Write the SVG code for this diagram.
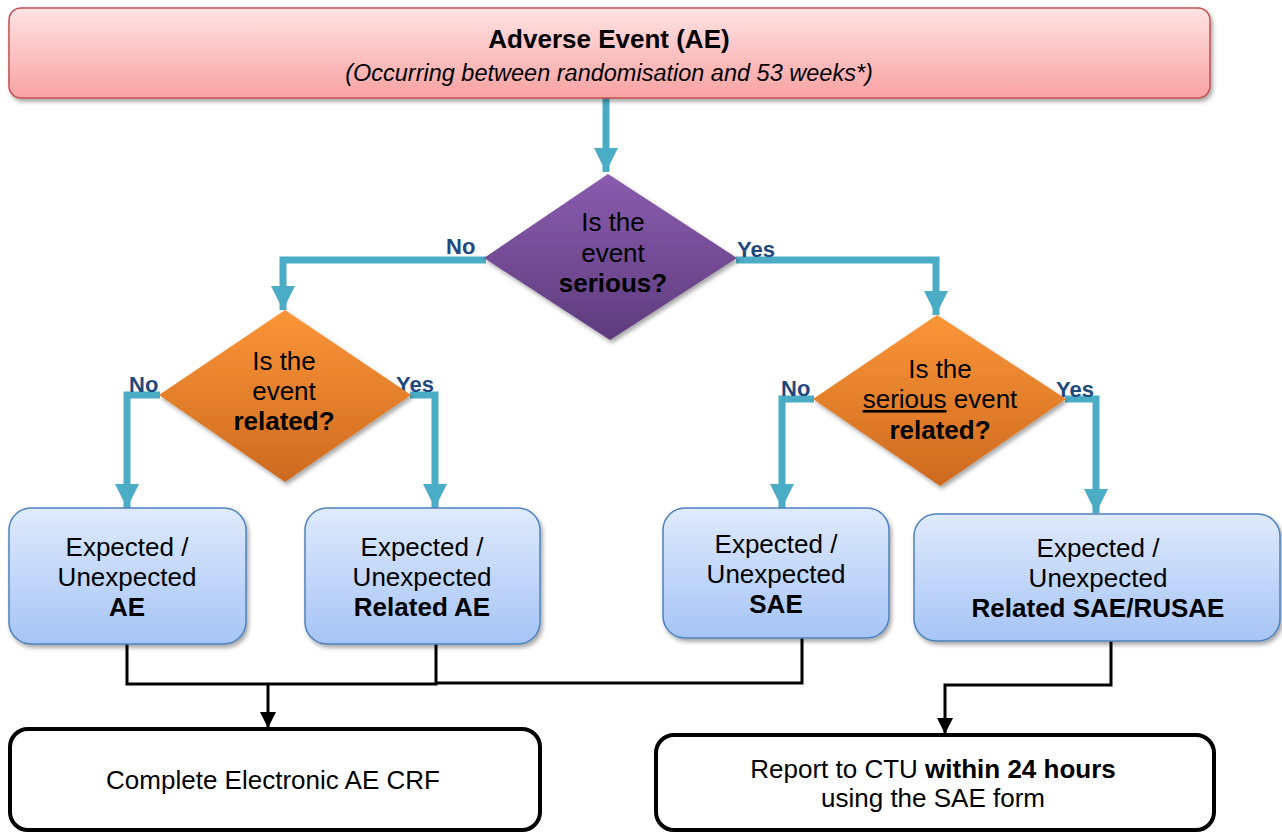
<svg xmlns="http://www.w3.org/2000/svg" width="1282" height="832" viewBox="0 0 1282 832">
<defs>
<linearGradient id="gRed" x1="0" y1="0" x2="0" y2="1"><stop offset="0" stop-color="#fee3e3"/><stop offset="1" stop-color="#f9a2a2"/></linearGradient>
<linearGradient id="gPurple" x1="0" y1="0" x2="0" y2="1"><stop offset="0" stop-color="#8a5cae"/><stop offset="1" stop-color="#5e3c7e"/></linearGradient>
<linearGradient id="gOrange" x1="0" y1="0" x2="0" y2="1"><stop offset="0" stop-color="#fb9538"/><stop offset="1" stop-color="#cd6a1f"/></linearGradient>
<linearGradient id="gBlue" x1="0" y1="0" x2="0" y2="1"><stop offset="0" stop-color="#dfeafc"/><stop offset="1" stop-color="#a6c4f6"/></linearGradient>
<filter id="sh" x="-10%" y="-10%" width="130%" height="130%"><feDropShadow dx="2" dy="3" stdDeviation="2" flood-color="#000" flood-opacity="0.35"/></filter>
<marker id="aTeal" viewBox="0 0 24 24" refX="24" refY="12" markerWidth="24" markerHeight="24" markerUnits="userSpaceOnUse" orient="auto"><path d="M0,0 L24,12 L0,24 Z" fill="#4bacc6"/></marker>
<marker id="aBlack" viewBox="0 0 16 16" refX="16" refY="8" markerWidth="16" markerHeight="16" markerUnits="userSpaceOnUse" orient="auto"><path d="M0,0 L16,8 L0,16 Z" fill="#000"/></marker>
</defs>
<style>
text{font-family:"Liberation Sans",Arial,sans-serif;fill:#000;text-anchor:middle}
.t{font-size:26px}
.b{font-weight:bold}
.lbl{font-size:22px;font-weight:bold;fill:#1f497d;text-anchor:start}
.teal{fill:none;stroke:#4bacc6;stroke-width:7}
.blk{fill:none;stroke:#000;stroke-width:3}
.box{fill:url(#gBlue);stroke:#4f81bd;stroke-width:1.5;filter:url(#sh)}
.out{fill:#fff;stroke:#000;stroke-width:4}
</style>

<g id="connectors">
<path class="teal" d="M606,98 V172" marker-end="url(#aTeal)"/>
<path class="teal" d="M486,260 H283 V310" marker-end="url(#aTeal)"/>
<path class="teal" d="M736,260 H936 V315" marker-end="url(#aTeal)"/>
<path class="teal" d="M160,395 H127 V508" marker-end="url(#aTeal)"/>
<path class="teal" d="M410,395 H435 V508" marker-end="url(#aTeal)"/>
<path class="teal" d="M814,399 H782 V508" marker-end="url(#aTeal)"/>
<path class="teal" d="M1065,399 H1096 V513" marker-end="url(#aTeal)"/>
<path class="blk" d="M127,644 V684 H436 V644"/>
<path class="blk" d="M436,683 H802 V638"/>
<path class="blk" d="M268,684 V728" marker-end="url(#aBlack)"/>
<path class="blk" d="M1111,641 V685 H945 V734" marker-end="url(#aBlack)"/>
<text class="lbl" x="446" y="254">No</text>
<text class="lbl" x="737" y="257">Yes</text>
<text class="lbl" x="129" y="392">No</text>
<text class="lbl" x="396" y="392">Yes</text>
<text class="lbl" x="781" y="396">No</text>
<text class="lbl" x="1056" y="397">Yes</text>
</g>

<g id="ae">
<rect x="9" y="8" width="1201" height="90" rx="12" fill="url(#gRed)" stroke="#c0504d" stroke-width="1.5" filter="url(#sh)"/>
<text class="b" x="609" y="48" font-size="26">Adverse Event (AE)</text>
<text x="609" y="81" font-size="23.5" font-style="italic">(Occurring between randomisation and 53 weeks*)</text>
</g>

<g id="serious">
<polygon points="608,174 737,258 610,340 484,258" fill="url(#gPurple)" filter="url(#sh)"/>
<text class="t" x="613" y="231">Is the</text>
<text class="t" x="613" y="262">event</text>
<text class="t b" x="613" y="292">serious?</text>
</g>

<g id="related">
<polygon points="285,310 411,395 285,482 159,395" fill="url(#gOrange)" filter="url(#sh)"/>
<text class="t" x="284" y="370">Is the</text>
<text class="t" x="284" y="400">event</text>
<text class="t b" x="284" y="430">related?</text>
</g>

<g id="serious-related">
<polygon points="937,315 1066,399 940,486 813,399" fill="url(#gOrange)" filter="url(#sh)"/>
<text class="t" x="940" y="378">Is the</text>
<text class="t" x="940" y="408"><tspan text-decoration="underline">serious</tspan> event</text>
<text class="t b" x="940" y="439">related?</text>
</g>

<g id="ae-box">
<rect class="box" x="9" y="508" width="237" height="136" rx="22"/>
<text class="t" x="127" y="556">Expected /</text>
<text class="t" x="127" y="586">Unexpected</text>
<text class="t b" x="127" y="616">AE</text>
</g>

<g id="related-ae-box">
<rect class="box" x="305" y="508" width="235" height="136" rx="22"/>
<text class="t" x="422" y="556">Expected /</text>
<text class="t" x="422" y="586">Unexpected</text>
<text class="t b" x="422" y="616">Related AE</text>
</g>

<g id="sae-box">
<rect class="box" x="663" y="508" width="226" height="130" rx="22"/>
<text class="t" x="776" y="553">Expected /</text>
<text class="t" x="776" y="583">Unexpected</text>
<text class="t b" x="776" y="613">SAE</text>
</g>

<g id="rusae-box">
<rect class="box" x="914" y="514" width="366" height="127" rx="22"/>
<text class="t" x="1098" y="557">Expected /</text>
<text class="t" x="1098" y="587">Unexpected</text>
<text class="t b" x="1098" y="617">Related SAE/RUSAE</text>
</g>

<g id="crf">
<rect class="out" x="10" y="729" width="530" height="101" rx="18"/>
<text class="t" x="273" y="789">Complete Electronic AE CRF</text>
</g>

<g id="report">
<rect class="out" x="656" y="735" width="558" height="95" rx="18"/>
<text class="t" x="933" y="778">Report to CTU <tspan class="b">within 24 hours</tspan></text>
<text class="t" x="933" y="807">using the SAE form</text>
</g>
</svg>
